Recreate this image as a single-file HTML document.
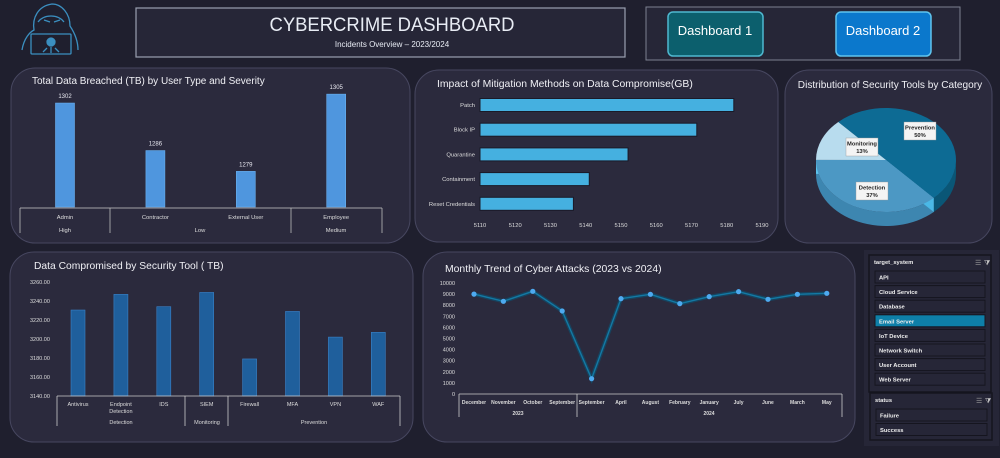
<!DOCTYPE html>
<html><head><meta charset="utf-8"><style>
html,body{margin:0;padding:0;background:#1f1f2e;}
svg{display:block;font-family:"Liberation Sans",sans-serif;}
</style></head><body>
<svg id="s" width="1000" height="458" viewBox="0 0 1000 458">
<rect x="0" y="0" width="1000" height="458" fill="#1f1f2e"/>
<g fill="none" stroke="#3b8fc0" stroke-width="1.3">
<path d="M22 50 C24 38 30 32 34 30 C32 18 38 6 52 4 C62 4 70 14 70 26 C74 32 78 40 78 50"/>
<path d="M38 22 C44 14 58 14 64 22"/>
<path d="M44 20 L50 22 M60 20 L54 22"/>
<rect x="31" y="34" width="40" height="20" rx="1"/>
<circle cx="51" cy="42" r="4" fill="#3b8fc0"/>
<path d="M47 48 L43 52 M55 48 L59 52 M51 47 L51 53"/>
</g>
<rect x="136" y="8" width="489" height="49" fill="#262637" stroke="#9aa0b0" stroke-width="1.2"/>
<text x="392" y="31" text-anchor="middle" font-size="19" textLength="245" lengthAdjust="spacingAndGlyphs" fill="#e8ecf4">CYBERCRIME DASHBOARD</text>
<text x="392" y="47" text-anchor="middle" font-size="8" fill="#e8ecf4">Incidents Overview – 2023/2024</text>
<rect x="646" y="7" width="314" height="53" fill="#262637" stroke="#7c8090" stroke-width="1"/>
<rect x="668" y="12" width="95" height="44" rx="5" fill="#0c5f6d" stroke="#4fb8d0" stroke-width="1.5"/>
<text x="715" y="35" text-anchor="middle" font-size="13" fill="#fff">Dashboard 1</text>
<rect x="836" y="12" width="95" height="44" rx="5" fill="#0b78cc" stroke="#5fc4ee" stroke-width="1.5"/>
<text x="883" y="35" text-anchor="middle" font-size="13" fill="#fff">Dashboard 2</text>

<rect x="11" y="68" width="399" height="175" rx="24" fill="#2b2a3d" stroke="#474760"/>
<rect x="415" y="70" width="363" height="172" rx="24" fill="#2b2a3d" stroke="#474760"/>
<rect x="785" y="70" width="207" height="173" rx="24" fill="#2b2a3d" stroke="#474760"/>
<rect x="10" y="252" width="403" height="190" rx="24" fill="#2b2a3d" stroke="#474760"/>
<rect x="423" y="252" width="432" height="190" rx="24" fill="#2b2a3d" stroke="#474760"/>

<text x="32" y="84" font-size="10" fill="#f0f0f5">Total Data Breached (TB) by User Type and Severity</text>
<text x="437" y="87" font-size="10.4" fill="#f0f0f5">Impact of Mitigation Methods on Data Compromise(GB)</text>
<text x="890" y="88" text-anchor="middle" font-size="10.1" fill="#f0f0f5">Distribution of Security Tools by Category</text>
<text x="34" y="269" font-size="10.3" fill="#f0f0f5">Data Compromised by Security Tool ( TB)</text>
<text x="445" y="272" font-size="10.4" fill="#f0f0f5">Monthly Trend of Cyber Attacks (2023 vs 2024)</text>

<g id="g1"></g><g id="g2"></g><g id="g3"></g><g id="g4"></g><g id="g5"></g><g id="g6"></g>
</svg>
<script>
const NS="http://www.w3.org/2000/svg";
function mk(p,t,a,txt){const e=document.createElementNS(NS,t);for(const k in a)e.setAttribute(k,a[k]);if(txt!==undefined)e.textContent=txt;p.appendChild(e);return e;}

const breachCats=["Admin","Contractor","External User","Employee"];
const breachGroups=["High","Low","Medium"];
const breachValues=[1302,1286,1279,1305];
const mitCats=["Patch","Block IP","Quarantine","Containment","Reset Credentials"];
const mitValues=[5182,5171.5,5152,5141,5136.5];
const mitTicks=[5110,5120,5130,5140,5150,5160,5170,5180,5190];
const pieCats=["Prevention","Monitoring","Detection"];
const pieValues=[50,13,37];
const toolCats=["Antivirus","Endpoint\nDetection","IDS","SIEM","Firewall","MFA","VPN","WAF"];
const toolValues=[3230.5,3247,3234,3249,3179,3229,3202,3207];
const toolTicks=["3140.00","3160.00","3180.00","3200.00","3220.00","3240.00","3260.00"];
const trendCats=["December","November","October","September","September","April","August","February","January","July","June","March","May"];
const trendValues=[9000,8350,9250,7480,1380,8590,8980,8140,8770,9220,8530,8980,9070];
const trendTicks=[0,1000,2000,3000,4000,5000,6000,7000,8000,9000,10000];
const targetItems=["API","Cloud Service","Database","Email Server","IoT Device","Network Switch","User Account","Web Server"];
const statusItems=["Failure","Success"];

(function(){
const g=document.getElementById('g1');
const base=207, y=v=>base-(v-1267)*2.97, cx=i=>65+i*90.4;
breachValues.forEach((v,i)=>{
 const r=mk(g,'rect',{x:cx(i)-9.5,y:y(v),width:19,height:base-y(v),fill:"#4f96de",stroke:"#6ab0f0","stroke-width":0.6});
 
 const t=mk(g,'text',{x:cx(i),y:y(v)-5,"text-anchor":"middle","font-size":6,fill:"#e8e8f0"},v);
 
 const c=mk(g,'text',{x:cx(i),y:219,"text-anchor":"middle","font-size":5.8,fill:"#ddd"},breachCats[i]);
 
});
mk(g,'line',{x1:20,y1:208,x2:382,y2:208,stroke:"#ccc","stroke-width":0.8});
[20,110,291,382].forEach(x=>mk(g,'line',{x1:x,y1:208,x2:x,y2:233,stroke:"#bbb","stroke-width":0.8}));
[[65,0],[200,1],[336,2]].forEach(([x,i])=>{const t=mk(g,'text',{x:x,y:232,"text-anchor":"middle","font-size":5.8,fill:"#ddd"},breachGroups[i]);});
})();

(function(){
const g=document.getElementById('g2');
const x=v=>480+(v-5110)*3.525, cy=i=>105+i*24.7;
mitValues.forEach((v,i)=>{
 const r=mk(g,'rect',{x:480,y:cy(i)-6.5,width:x(v)-480,height:13,fill:"#45b0e0",stroke:"#1a1a28","stroke-width":1});
 
 const t=mk(g,'text',{x:475,y:cy(i)+2,"text-anchor":"end","font-size":5.8,fill:"#ddd"},mitCats[i]);
 
});
mitTicks.forEach(v=>{const t=mk(g,'text',{x:x(v),y:227,"text-anchor":"middle","font-size":5.8,fill:"#ddd"},v);});
})();

(function(){
const g=document.getElementById('g3');
const cx=886,cy=160,rx=70,ry=52,d=14;
const cols=["#0d6b94","#b8dcee","#4c98c4"], side=["#0a5676","#5dc0ea","#3d86b0"];
const tot=pieValues.reduce((a,b)=>a+b,0);
let a0=-133*Math.PI/180;
const P=(t,dy)=>[cx+rx*Math.cos(t),cy+ry*Math.sin(t)+(dy||0)];
let angles=[];let s=a0;
const order=[0,2,1];
order.forEach(i=>{const e=s+pieValues[i]/tot*2*Math.PI;angles[i]=[s,e];s=e;});
order.forEach(i=>{
 let [s0,e0]=angles[i];
 const s1=Math.max(s0,0),e1=Math.min(e0,Math.PI);
 if(e1>s1){
  const a=P(s1),b=P(e1),a2=P(s1,d),b2=P(e1,d);
  mk(g,'path',{d:`M${a} A${rx} ${ry} 0 0 1 ${b} L${b2} A${rx} ${ry} 0 0 0 ${a2}Z`,fill:side[i]});
 }
});
mk(g,'path',{d:`M${cx} ${cy} L${P(angles[0][1])} L${P(angles[0][1],d)} L${cx} ${cy+d}Z`,fill:"#4ab8e6"});
mk(g,'path',{d:`M${cx} ${cy} L${P(angles[1][0])} L${P(angles[1][0],d)} L${cx} ${cy+d}Z`,fill:"#5cc4ee"});
order.forEach(i=>{
 const [s0,e0]=angles[i];const a=P(s0),b=P(e0);const lg=(e0-s0)>Math.PI?1:0;
 const p=mk(g,'path',{d:`M${cx} ${cy} L${a} A${rx} ${ry} 0 ${lg} 1 ${b}Z`,fill:cols[i]});
 
 const lp=[0,0];
 if(i===1){lp[0]=862;lp[1]=147;}
 if(i===0){lp[0]=920;lp[1]=131;}
 if(i===2){lp[0]=872;lp[1]=191;}
 mk(g,'rect',{x:lp[0]-16,y:lp[1]-9,width:32,height:18,fill:"#f4f4f4",stroke:"#999","stroke-width":0.4});
 const t=mk(g,'text',{x:lp[0],y:lp[1]-1.5,"text-anchor":"middle","font-size":5.8,"font-weight":"bold",fill:"#222"},pieCats[i]);
 
 const t2=mk(g,'text',{x:lp[0],y:lp[1]+6,"text-anchor":"middle","font-size":5.8,"font-weight":"bold",fill:"#222"},pieValues[i]+"%");
 
});
})();

(function(){
const g=document.getElementById('g4');
const base=396,y=v=>base-(v-3140)*0.95,cx=i=>78+i*42.9;
toolTicks.forEach(v=>{const t=mk(g,'text',{x:30,y:y(parseFloat(v))+2,"font-size":5.5,fill:"#ddd"},v);});
toolValues.forEach((v,i)=>{
 const r=mk(g,'rect',{x:cx(i)-7,y:y(v),width:14,height:base-y(v),fill:"#1f5f9c",stroke:"#3b82c8","stroke-width":0.6});
 
 toolCats[i].split("\n").forEach((ln,k)=>{const t=mk(g,'text',{x:cx(i),y:406+k*7,"text-anchor":"middle","font-size":5.5,fill:"#ddd"},ln);});
});
mk(g,'line',{x1:57,y1:396,x2:400,y2:396,stroke:"#ccc","stroke-width":0.8});
[57,185,228,400].forEach(x=>mk(g,'line',{x1:x,y1:396,x2:x,y2:426,stroke:"#ccc","stroke-width":0.8}));
[[121,"Detection"],[207,"Monitoring"],[314,"Prevention"]].forEach(([x,s])=>{const t=mk(g,'text',{x:x,y:424,"text-anchor":"middle","font-size":5.5,fill:"#ddd"},s);});
})();

(function(){
const g=document.getElementById('g5');
const y=v=>394-v*0.0111,x=i=>474+i*29.4;
trendTicks.forEach(v=>{const t=mk(g,'text',{x:455,y:y(v)+2,"text-anchor":"end","font-size":5.5,fill:"#ddd"},v);});
const pts=trendValues.map((v,i)=>x(i)+","+y(v)).join(" ");
mk(g,'polyline',{points:pts,fill:"none",stroke:"#0e4e6e","stroke-width":4,"stroke-opacity":0.7});
const pl=mk(g,'polyline',{points:pts,fill:"none",stroke:"#1379a4","stroke-width":1.4});

trendValues.forEach((v,i)=>{
 const c=mk(g,'circle',{cx:x(i),cy:y(v),r:2.6,fill:"#4eaaf0"});
 
 const t=mk(g,'text',{x:x(i),y:404,"text-anchor":"middle","font-size":5,"font-weight":"bold",fill:"#ddd"},trendCats[i]);
 
});
mk(g,'line',{x1:459,y1:394,x2:842,y2:394,stroke:"#ccc","stroke-width":0.8});
[459,577,842].forEach(xx=>mk(g,'line',{x1:xx,y1:394,x2:xx,y2:417,stroke:"#ccc","stroke-width":0.8}));
[[518,"2023"],[709,"2024"]].forEach(([xx,s])=>{const t=mk(g,'text',{x:xx,y:415,"text-anchor":"middle","font-size":5,"font-weight":"bold",fill:"#ddd"},s);});
})();

(function(){
const g=document.getElementById('g6');
mk(g,'rect',{x:864,y:250,width:135,height:196,fill:"#262637"});
let r=mk(g,'rect',{x:869,y:255,width:122,height:137,fill:"#262637",stroke:"#15151f","stroke-width":1.5});

let t=mk(g,'text',{x:874,y:264,"font-size":5.8,"font-weight":"bold",fill:"#eee"},"target_system");

mk(g,'text',{x:975,y:265,"font-size":7,fill:"#999"},"☰");
mk(g,'text',{x:984,y:265,"font-size":7,fill:"#ccc"},"⧩");
targetItems.forEach((s,i)=>{
 const yy=271+i*14.6;const sel=s==="Email Server";
 const b=mk(g,'rect',{x:875,y:yy,width:110,height:12,fill:sel?"#0e7fa8":"#262637",stroke:"#15151f","stroke-width":1});
 
 const tt=mk(g,'text',{x:879,y:yy+8.5,"font-size":5.8,"font-weight":"bold",fill:"#eee"},s);
 
});
r=mk(g,'rect',{x:870,y:393,width:122,height:47,fill:"#262637",stroke:"#15151f","stroke-width":1.5});

t=mk(g,'text',{x:875,y:402,"font-size":5.8,"font-weight":"bold",fill:"#eee"},"status");

mk(g,'text',{x:976,y:403,"font-size":7,fill:"#999"},"☰");
mk(g,'text',{x:985,y:403,"font-size":7,fill:"#ccc"},"⧩");
statusItems.forEach((s,i)=>{
 const yy=409+i*14.5;
 const b=mk(g,'rect',{x:876,y:yy,width:111,height:12,fill:"#262637",stroke:"#15151f","stroke-width":1});
 
 const tt=mk(g,'text',{x:880,y:yy+8.5,"font-size":5.8,"font-weight":"bold",fill:"#eee"},s);
 
});
})();
</script>
</body></html>
